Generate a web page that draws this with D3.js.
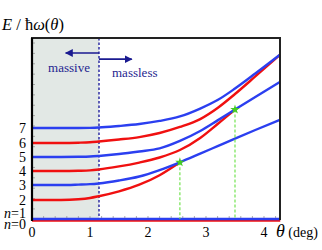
<!DOCTYPE html>
<html><head><meta charset="utf-8">
<script src="https://cdn.jsdelivr.net/npm/d3@7"></script>
<style>body{margin:0;background:#fff}svg{display:block}text{font-family:"Liberation Serif","Times New Roman",serif}</style>
</head><body><svg id="c" width="322" height="250"></svg>
<script>
// ---- data ----
const thetaGrid = [0, 0.5, 0.8, 1.0, 1.15, 1.5, 1.85, 2.2, 2.55, 2.9, 3.2, 3.5, 3.85, 4.28];
const n0 = [-0.1, -0.1, -0.1, -0.1, -0.1, -0.1, -0.1, -0.1, -0.1, -0.1, -0.1, -0.1, -0.1, -0.1];
const n1 = [0, 0, 0, 0, 0, 0, 0, 0, 0, 0, 0, 0, 0, 0];
const n2 = [1.32, 1.32, 1.37, 1.46, 1.58, 1.92, 2.38, 3.04, 3.94, null, null, null, null, null];
const n3 = [2.36, 2.36, 2.39, 2.42, 2.47, 2.67, 2.95, 3.40, 3.94, 4.54, 5.06, 5.58, 6.18, 6.90];
const n4 = [3.33, 3.33, 3.35, 3.38, 3.44, 3.65, 3.92, 4.27, 4.79, 5.63, 6.60, 7.60, null, null];
const n5 = [4.31, 4.31, 4.32, 4.34, 4.38, 4.51, 4.69, 4.90, 5.42, 6.11, 6.85, 7.60, 8.47, 9.53];
const n6 = [5.28, 5.28, 5.30, 5.33, 5.38, 5.52, 5.69, 5.97, 6.39, 6.94, 7.71, 8.68, 9.90, 11.42];
const n7 = [6.32, 6.32, 6.32, 6.33, 6.35, 6.46, 6.60, 6.81, 7.12, 7.67, 8.26, 9.06, 10.10, 11.42];
const crossTheta = [2.55, 3.5];
const crossE = [3.94, 7.60];
const thetaCritical = 1.155;
const xTickValues = [0, 1, 2, 3, 4];
const xMinorTicks = d3.range(0, 4.21, 0.2);
const yMinorTicks = d3.range(0.7, 12.6, 0.72);
const arrowsE = [11.53, 11.1];
const arrowsTheta = [0.58, 1.72];

const RED = "#f01010", BLUE = "#2b3ff0";
const series = [
  {n: 0, label: "n=0", color: RED, values: n0},
  {n: 1, label: "n=1", color: BLUE, values: n1},
  {n: 2, label: "2", color: RED, values: n2},
  {n: 4, label: "4", color: RED, values: n4},
  {n: 6, label: "6", color: RED, values: n6},
  {n: 3, label: "3", color: BLUE, values: n3},
  {n: 5, label: "5", color: BLUE, values: n5},
  {n: 7, label: "7", color: BLUE, values: n7}
];

const svg = d3.select("#c");
const x = d3.scaleLinear().domain([0, 4.276]).range([32, 280]);
const y = d3.scaleLinear().domain([0, 12.57]).range([219, 38]);

const defs = svg.append("defs");
defs.append("marker").attr("id","ah").attr("viewBox","0 0 10 10").attr("refX",9).attr("refY",5)
  .attr("markerWidth",5).attr("markerHeight",5).attr("orient","auto-start-reverse")
  .append("path").attr("d","M0,0 L10,5 L0,10 z").attr("fill","#1a1a90");

// shaded massive region
svg.append("rect").attr("x", x(0)).attr("y", y(12.57)).attr("width", x(thetaCritical)-x(0))
  .attr("height", y(0)-y(12.57)).attr("fill","#e2e8e5");

// minor ticks
svg.append("g").selectAll("line").data(xMinorTicks).join("line")
  .attr("x1", d=>x(d)).attr("x2", d=>x(d)).attr("y1", y(0)).attr("y2", y(0)-3)
  .attr("stroke","#999").attr("stroke-width",0.8);
svg.append("g").selectAll("line").data(yMinorTicks).join("line")
  .attr("x1", x(0)).attr("x2", x(0)+3).attr("y1", d=>y(d)).attr("y2", d=>y(d))
  .attr("stroke","#999").attr("stroke-width",0.8);

// boundary
svg.append("line").attr("x1", x(thetaCritical)).attr("x2", x(thetaCritical))
  .attr("y1", y(12.57)).attr("y2", y(0)).attr("stroke","#3a3aa8").attr("stroke-width",1.6)
  .attr("stroke-dasharray","2.5,2");

// curves
const line = d3.line().defined(d=>d[1]!==null).x(d=>x(d[0])).y(d=>y(d[1])).curve(d3.curveMonotoneX);
svg.append("g").selectAll("path").data(series).join("path")
  .attr("d", s => line(thetaGrid.map((t,i)=>[t, s.values[i]])))
  .attr("fill","none").attr("stroke", s=>s.color).attr("stroke-width",2.4);

// green dashed drops & markers
svg.append("g").selectAll("line").data(crossTheta).join("line")
  .attr("x1", d=>x(d)).attr("x2", d=>x(d)).attr("y1", (d,i)=>y(crossE[i])).attr("y2", y(0))
  .attr("stroke","#66e040").attr("stroke-width",1.1).attr("stroke-dasharray","3,2");
svg.append("g").selectAll("path").data(crossTheta).join("path")
  .attr("d", d3.symbol(d3.symbolStar, 28))
  .attr("transform", (d,i)=>`translate(${x(d)},${y(crossE[i])})`).attr("fill","#44cc22");

// arrows
svg.append("g").selectAll("line").data(arrowsTheta).join("line")
  .attr("x1", x(thetaCritical)).attr("x2", d=>x(d)).attr("y1",(d,i)=>y(arrowsE[i])).attr("y2",(d,i)=>y(arrowsE[i]))
  .attr("stroke","#1a1a90").attr("stroke-width",1.6).attr("marker-end","url(#ah)");
svg.append("text").attr("x", 69).attr("y", 72).attr("text-anchor","middle").attr("font-size",13)
  .attr("fill","#1f1f90").text("massive");
svg.append("text").attr("x", 112).attr("y", 77).attr("font-size",13)
  .attr("fill","#1f1f90").text("massless");

// frame
svg.append("path").attr("d",`M${x(0)},${y(0)+2} L${x(0)},${y(12.57)} L280,${y(12.57)} L280,${y(0)+1}`)
  .attr("fill","none").attr("stroke","#222").attr("stroke-width",2);
svg.append("line").attr("x1",x(0)).attr("x2",x(0)).attr("y1",y(12.57)).attr("y2",y(0)+2)
  .attr("stroke","#000").attr("stroke-width",2.2);

// x tick labels
svg.append("g").selectAll("text").data(xTickValues).join("text")
  .attr("x", d=>x(d)).attr("y", 237).attr("text-anchor","middle").attr("font-size",14).text(d=>d);

// level labels
const lab = svg.append("g");
series.forEach(s => {
  let yy = y(s.values[0]);
  if (s.n === 0) yy = y(0) + 5.5;
  if (s.n === 1) yy = y(0) - 6;
  const t = lab.append("text").attr("x", 26).attr("y", yy).attr("dy","0.33em").attr("text-anchor","end").attr("font-size",14);
  if (s.n <= 1) {
    t.append("tspan").attr("font-style","italic").text("n");
    t.append("tspan").text("=" + s.n);
  } else t.text(s.label);
});

// title
const tt = svg.append("text").attr("x", 2).attr("y", 30).attr("font-size",16.5);
tt.append("tspan").attr("font-style","italic").text("E");
tt.append("tspan").text(" / ħ");
tt.append("tspan").attr("font-style","italic").text("ω");
tt.append("tspan").text("(");
tt.append("tspan").attr("font-style","italic").text("θ");
tt.append("tspan").text(")");

// x label
const xl = svg.append("text").attr("x", 276).attr("y", 237);
xl.append("tspan").attr("font-style","italic").attr("font-size",18).text("θ");
xl.append("tspan").attr("font-size",14).text(" (deg)");
</script></body></html>
